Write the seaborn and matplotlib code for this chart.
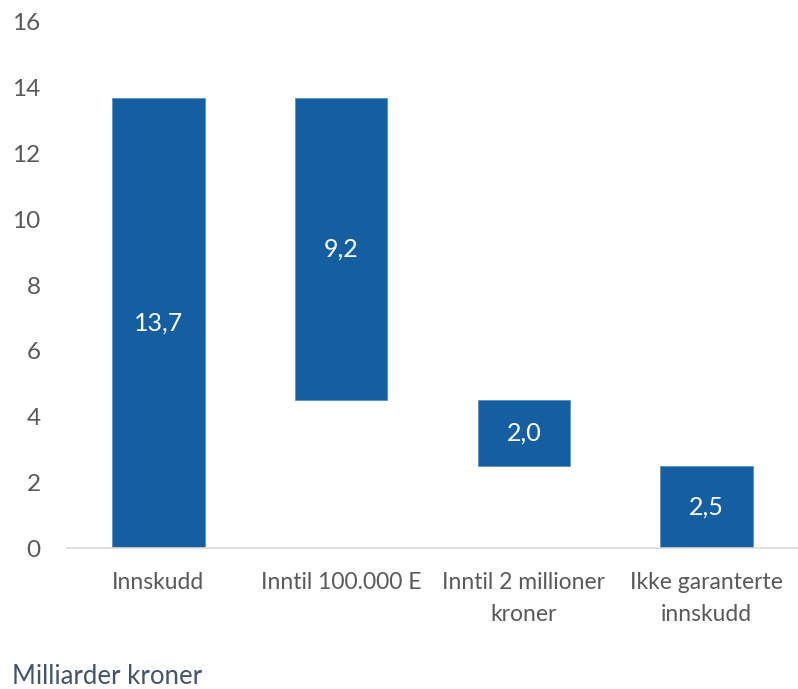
import matplotlib
matplotlib.use("Agg")
import matplotlib.pyplot as plt
import seaborn as sns
import numpy as np
import pandas as pd

# Data (milliarder kroner)
categories = ["Innskudd", "Inntil 100.000 E", "Inntil 2 millioner\nkroner", "Ikke garanterte\ninnskudd"]
values = [13.7, 9.2, 2.0, 2.5]
bases = [0.0, 4.5, 2.5, 0.0]
labels = ["13,7", "9,2", "2,0", "2,5"]

sns.set_theme(style="white")
plt.rcParams['font.family'] = ['Lato', 'DejaVu Sans']

bar_color = "#155FA0"
text_grey = "#595959"

df = pd.DataFrame({"cat": categories, "val": values, "base": bases})

fig = plt.figure(figsize=(7.98, 6.89), dpi=100)
ax = fig.add_axes([0.084, 0.2046, 0.916, 0.7635])

sns.barplot(data=df, x="cat", y="val", bottom=df["base"].to_numpy(), color=bar_color,
            width=0.505, saturation=1, ax=ax, edgecolor="#5b8fc4", linewidth=0.6)

for i, (v, b, lab) in enumerate(zip(values, bases, labels)):
    ax.text(i, b + v / 2, lab, ha="center", va="center", color="white", fontsize=18)

ax.set_ylim(0, 16)
ax.set_yticks(range(0, 17, 2))
ax.set_xlim(-0.5, 3.5)
ax.set_xlabel("")
ax.set_ylabel("")
for s in ["top", "right", "left"]:
    ax.spines[s].set_visible(False)
ax.spines["bottom"].set_color("#D9D9D9")
ax.spines["bottom"].set_linewidth(1.2)
ax.tick_params(axis="both", length=0, labelsize=16.5, colors=text_grey)
ax.tick_params(axis="x", pad=17)
ax.tick_params(axis="y", pad=19)
for t in ax.get_xticklabels():
    t.set_linespacing(1.65)
for t in ax.get_yticklabels():
    t.set_fontsize(17.5)

fig.text(0.015, 0.0, "Milliarder kroner", color="#44546A", fontsize=18.5, ha="left", va="bottom")

fig.savefig("out.png", dpi=100)
